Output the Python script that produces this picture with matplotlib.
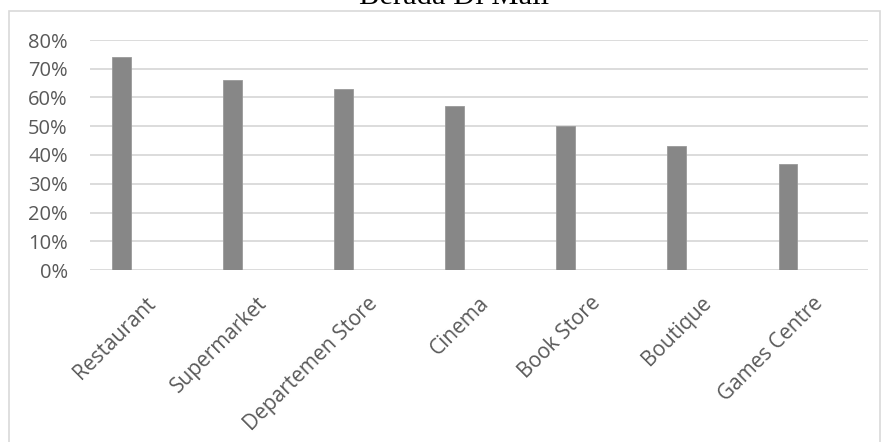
import matplotlib
matplotlib.use("Agg")
import matplotlib.pyplot as plt
from matplotlib.patches import Rectangle
from matplotlib.ticker import FuncFormatter
import matplotlib.transforms as mtransforms

categories = ["Restaurant", "Supermarket", "Departemen Store", "Cinema",
              "Book Store", "Boutique", "Games Centre"]
values = [74, 66, 63, 57, 50, 43, 37]
yticks = [0, 10, 20, 30, 40, 50, 60, 70, 80]
title = "Berada Di Mall"

W, H = 884, 442
fig = plt.figure(figsize=(W / 100, H / 100), dpi=100)

# chart border
fig.patches.append(Rectangle((9 / W, -0.05), (880 - 9) / W, 1.05 - 11 / H,
                             transform=fig.transFigure, fill=False,
                             edgecolor="#d9d9d9", linewidth=1.2))

left, right, top, bottom = 90, 868, 40, 270
ax = fig.add_axes([left / W, 1 - bottom / H, (right - left) / W, (bottom - top) / H])

x = list(range(len(categories)))
ax.bar(x, values, width=0.17, color="#878787", edgecolor="#9a9a9a", linewidth=0.6, zorder=3)
ax.set_xlim(-0.28, 6.72)
ax.set_ylim(0, 80)
ax.set_yticks(yticks)
ax.yaxis.set_major_formatter(FuncFormatter(lambda v, p: f"{int(v)}%"))
ax.grid(axis="y", color="#d9d9d9", linewidth=1.3, zorder=0)
for s in ax.spines.values():
    s.set_visible(False)
ax.tick_params(axis="both", length=0, labelcolor="#595959")
ax.tick_params(axis="y", pad=16, labelsize=14.5)
ax.tick_params(axis="x", labelsize=15)
ax.set_xticks(x)
ax.set_xticklabels(categories, rotation=45, ha="right", rotation_mode="anchor",
                   family="Open Sans")
for lbl in ax.get_yticklabels():
    lbl.set_family("Open Sans")
offset = mtransforms.ScaledTranslation(24 / 100, -18 / 100, fig.dpi_scale_trans)
for lbl in ax.get_xticklabels():
    lbl.set_transform(lbl.get_transform() + offset)

fig.text(454 / W, 1 - 4 / H, title, ha="center", va="baseline",
         family="Liberation Serif", fontsize=22, color="black")

fig.savefig("out.png", dpi=100)
